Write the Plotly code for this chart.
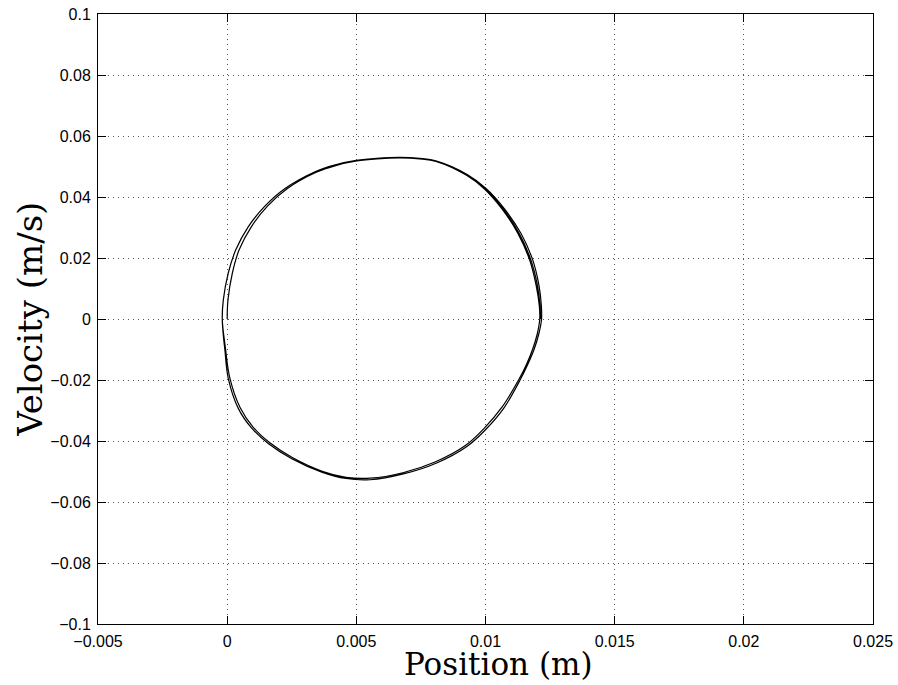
import plotly.graph_objects as go

# Phase-plane trajectory (position in m, velocity in m/s)
# cycle 1 (starts at origin), cycle 2 (outer limit cycle), cycle 3 (partial, ends at right)
pos_c1 = [0.00000, 0.00003, 0.00020, 0.00046, 0.00094, 0.00156, 0.00232, 0.00345, 0.00420,
          0.00502, 0.00580, 0.00669, 0.00745, 0.00811, 0.00925, 0.00994, 0.01063, 0.01126,
          0.01171, 0.01196, 0.01208, 0.01210, 0.01200, 0.01182, 0.01158, 0.01128, 0.01063,
          0.00993, 0.00922, 0.00807, 0.00680, 0.00553, 0.00460, 0.00368, 0.00254, 0.00164,
          0.00101, 0.00050, 0.00010, -0.00006]
vel_c1 = [0.0000, 0.0062, 0.0150, 0.0226, 0.0303, 0.0370, 0.0427, 0.0481, 0.0503,
          0.0518, 0.0525, 0.0528, 0.0525, 0.0516, 0.0472, 0.0428, 0.0362, 0.0280,
          0.0193, 0.0110, 0.0045, 0.0000, -0.0050, -0.0100, -0.0150, -0.0200, -0.0290,
          -0.0360, -0.0415, -0.0468, -0.0504, -0.0522, -0.0519, -0.0499, -0.0455, -0.0405,
          -0.0355, -0.0290, -0.0192, -0.0100]

pos_c2 = [-0.00019, -0.00015, 0.00004, 0.00033, 0.00082, 0.00146, 0.00224, 0.00340, 0.00415,
          0.00500, 0.00580, 0.00669, 0.00745, 0.00811, 0.00929, 0.01001, 0.01072, 0.01137,
          0.01183, 0.01207, 0.01216, 0.01217, 0.01206, 0.01188, 0.01163, 0.01134, 0.01071,
          0.01000, 0.00928, 0.00811, 0.00682, 0.00553, 0.00460, 0.00366, 0.00250, 0.00159,
          0.00095, 0.00043, 0.00004, -0.00009, -0.00015]
vel_c2 = [0.0000, 0.0062, 0.0150, 0.0226, 0.0303, 0.0370, 0.0428, 0.0483, 0.0505,
          0.0520, 0.0527, 0.0530, 0.0527, 0.0518, 0.0474, 0.0429, 0.0363, 0.0281,
          0.0193, 0.0110, 0.0045, 0.0000, -0.0050, -0.0100, -0.0150, -0.0200, -0.0292,
          -0.0363, -0.0418, -0.0472, -0.0508, -0.0527, -0.0523, -0.0502, -0.0458, -0.0408,
          -0.0358, -0.0293, -0.0194, -0.0100, -0.0052]

pos_c3 = [-0.00019, -0.00015, 0.00004, 0.00033, 0.00082, 0.00146, 0.00224, 0.00340, 0.00415,
          0.00500, 0.00580, 0.00669, 0.00745, 0.00811, 0.00926, 0.00996, 0.01066, 0.01130,
          0.01176, 0.01201, 0.01211, 0.01213]
vel_c3 = [0.0000, 0.0062, 0.0150, 0.0226, 0.0303, 0.0370, 0.0428, 0.0483, 0.0505,
          0.0520, 0.0527, 0.0530, 0.0527, 0.0518, 0.0473, 0.0429, 0.0363, 0.0281,
          0.0193, 0.0110, 0.0045, 0.0000]

position = pos_c1 + pos_c2 + pos_c3
velocity = vel_c1 + vel_c2 + vel_c3

x_ticks = [-0.005, 0, 0.005, 0.01, 0.015, 0.02, 0.025]
x_ticktext = ["\u22120.005", "0", "0.005", "0.01", "0.015", "0.02", "0.025"]
y_ticks = [-0.1, -0.08, -0.06, -0.04, -0.02, 0, 0.02, 0.04, 0.06, 0.08, 0.1]
y_ticktext = ["\u22120.1", "\u22120.08", "\u22120.06", "\u22120.04", "\u22120.02", "0",
              "0.02", "0.04", "0.06", "0.08", "0.1"]

fig = go.Figure()
fig.add_trace(go.Scatter(x=position, y=velocity, mode="lines",
                         line=dict(color="black", width=1.2, shape="spline", smoothing=1.0),
                         showlegend=False, hoverinfo="skip"))

axis_common = dict(
    showline=True, linecolor="black", linewidth=1, mirror="ticks",
    ticks="inside", ticklen=8, tickcolor="black", tickwidth=1,
    showgrid=True, gridcolor="#555555", gridwidth=1, griddash="1px,4px",
    zeroline=False, automargin=False, ticklabeloverflow="allow",
    tickfont=dict(family="Liberation Sans, Arial", size=16, color="black"),
)

fig.update_layout(
    width=898, height=685,
    paper_bgcolor="white", plot_bgcolor="white",
    margin=dict(l=98, r=25, t=14, b=61),
    xaxis=dict(range=[-0.005, 0.025], tickvals=x_ticks, ticktext=x_ticktext,
               ticklabelstandoff=3, **axis_common),
    yaxis=dict(range=[-0.1, 0.1], tickvals=y_ticks, ticktext=y_ticktext,
               ticklabelstandoff=3, **axis_common),
    annotations=[
        dict(text="Position (m)", xref="paper", yref="paper", x=0.517, y=-0.065,
             xanchor="center", yanchor="middle", showarrow=False,
             font=dict(family="DejaVu Serif", size=31, color="black")),
        dict(text="Velocity (m/s)", xref="paper", yref="paper", x=-0.088, y=0.5,
             xanchor="center", yanchor="middle", showarrow=False, textangle=-90,
             font=dict(family="DejaVu Serif", size=34, color="black")),
    ],
)

fig.write_html(
    "out.html",
    config={"displayModeBar": False},
    post_script="document.body.style.margin='0';document.documentElement.style.overflow='hidden';",
)
